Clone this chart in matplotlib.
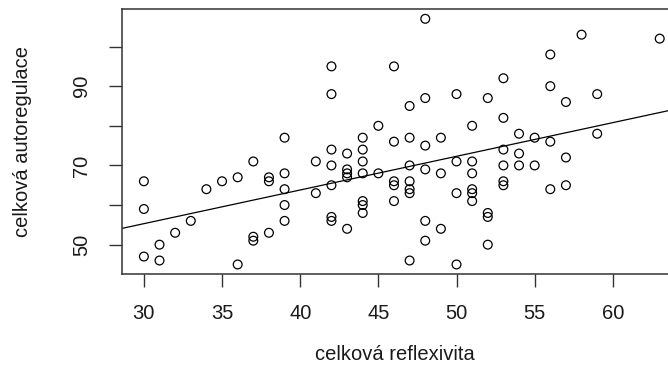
import matplotlib
matplotlib.use("Agg")
import matplotlib.pyplot as plt
import numpy as np

# Data (celková reflexivita vs. celková autoregulace)
reflexivita = [
    30, 30, 30, 31, 31, 32, 33, 34, 35, 36, 36, 37, 37, 37, 38, 38, 38,
    39, 39, 39, 39, 39,
    48, 42, 46, 42, 48, 47, 50, 52, 45, 51, 44, 46, 47, 48, 49, 42, 44,
    41, 42, 43, 44, 43, 43, 43, 44, 45, 47, 48, 49, 50, 51, 51, 42, 41,
    46, 46, 47, 47, 47, 46, 44, 44, 44, 42, 42, 43, 48, 49, 48, 47, 50,
    50, 51, 51, 51, 52, 52, 52,
    53, 54, 56, 57, 53, 54, 55, 53, 53, 56, 57, 58, 63, 56, 53, 56, 57,
    59, 53, 54, 55, 59,
]
autoregulace = [
    66, 59, 47, 50, 46, 53, 56, 64, 66, 67, 45, 71, 52, 51, 67, 66, 53,
    77, 68, 64, 60, 56,
    107, 95, 95, 88, 87, 85, 88, 87, 80, 80, 77, 76, 77, 75, 77, 74, 74,
    71, 70, 73, 71, 69, 68, 67, 68, 68, 70, 69, 68, 71, 71, 68, 65, 63,
    66, 65, 66, 64, 63, 61, 61, 60, 58, 57, 56, 54, 56, 54, 51, 46, 45,
    63, 64, 63, 61, 58, 57, 50,
    74, 73, 76, 72, 70, 70, 70, 66, 65, 64, 65, 103, 102, 98, 92, 90, 86,
    88, 82, 78, 77, 78,
]
# regression line (abline)
line_intercept = 29.8
line_slope = 0.85

x_ticks = [30, 35, 40, 45, 50, 55, 60]
y_ticks = [50, 60, 70, 80, 90, 100]
y_tick_labels = ["50", "", "70", "", "90", ""]
x_label = "celková reflexivita"
y_label = "celková autoregulace"

plt.rcParams["font.family"] = ["Liberation Sans", "DejaVu Sans"]
W, H = 668, 376
fig = plt.figure(figsize=(W / 100, H / 100), dpi=100)
left, right, top, bottom = 122, 668, 9, 274.3
ax = fig.add_axes([left / W, 1 - bottom / H, (right - left) / W, (bottom - top) / H])

txt = "#1a1a1a"
ax.scatter(reflexivita, autoregulace, s=40, facecolors="none",
           edgecolors="black", linewidths=0.9, zorder=3)
ax.axline((0, line_intercept), slope=line_slope, color="black", lw=0.9, zorder=2)

ax.set_xlim(28.6, 63.53)
ax.set_ylim(42.52, 109.48)
ax.set_xticks(x_ticks)
ax.set_yticks(y_ticks)
ax.set_yticklabels(y_tick_labels)
for lab in ax.get_yticklabels():
    lab.set_rotation(90)
    lab.set_va("center")

for s in ["left", "top", "bottom"]:
    ax.spines[s].set_color("#333333")
    ax.spines[s].set_linewidth(1.1)
ax.spines["right"].set_visible(False)

ax.tick_params(axis="both", length=9.5, width=1.0, color="#333333",
               labelsize=14.5, labelcolor=txt)
ax.tick_params(axis="x", pad=12)
ax.tick_params(axis="y", pad=13)

ax.set_xlabel(x_label, fontsize=14.5, color=txt)
ax.set_ylabel(y_label, fontsize=14.5, color=txt)
ax.xaxis.set_label_coords((395 - left) / (right - left), -(355 - bottom) / (bottom - top))
ax.yaxis.set_label_coords(-(left - 23) / (right - left), 0.5)
ax.xaxis.label.set_va("center")
ax.yaxis.label.set_va("center")

fig.savefig("out.png", dpi=100)
